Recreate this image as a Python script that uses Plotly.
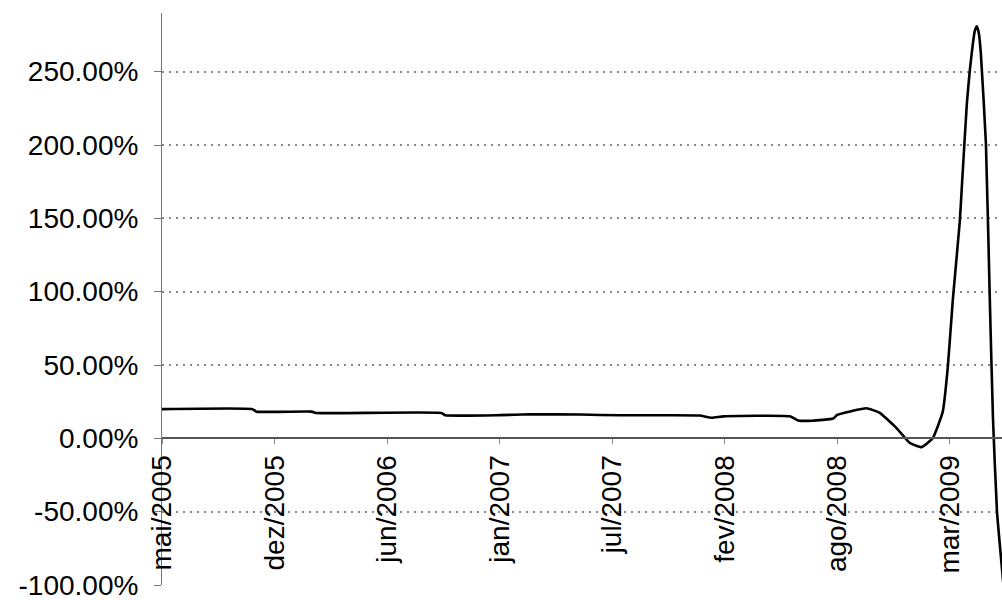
import plotly.graph_objects as go

# observation index (56 obs between date labels) and return in %
obs = [0, 45, 47, 74.5, 76.5, 139, 141, 168, 183, 208, 228, 267.5, 273.5, 279.5,
       312.5, 316.5, 323.5, 334, 336, 343, 350.5, 357, 365.5, 372, 378, 383.5,
       388.5, 391, 393.5, 397, 398, 400.5, 402, 404.5, 405.5, 406.5, 407.5, 410,
       412, 413.5, 415.5, 418, 420]
retorno = [19.9, 19.9, 18.2, 18.2, 17.3, 17.3, 15.7, 15.8, 16.4, 16.2, 15.7, 15.6,
           14.0, 15.0, 15.0, 12.2, 12.0, 13.5, 16.0, 18.5, 20.5, 17.5, 7.0, -3.0,
           -6.0, 0.0, 18.0, 48.0, 94.0, 148.0, 171.0, 228.0, 251.0, 278.0,
           281.0, 276.0, 262.0, 201.0, 91.0, 14.0, -50.0, -89.0, -120.0]

tick_pos = [0, 56, 112, 168, 224, 280, 336, 392]
tick_labels = ["mai/2005", "dez/2005", "jun/2006", "jan/2007", "jul/2007",
               "fev/2008", "ago/2008", "mar/2009"]

y_ticks = [-100, -50, 0, 50, 100, 150, 200, 250]
y_labels = [f"{v:.2f}%" for v in y_ticks]

y_min, y_max = -100, 290

fig = go.Figure()
fig.add_trace(go.Scatter(
    x=obs, y=retorno, mode="lines",
    line=dict(color="black", width=2.6, shape="spline", smoothing=0.4),
    showlegend=False, hoverinfo="skip"
))

fig.update_layout(
    width=1002, height=600,
    plot_bgcolor="white", paper_bgcolor="white",
    margin=dict(l=162, r=0, t=13, b=15),
    font=dict(family="Liberation Sans, Arial, sans-serif", size=28, color="black"),
)
fig.update_xaxes(
    range=[0, 418], automargin=False,
    tickmode="array", tickvals=tick_pos, ticktext=tick_labels,
    tickangle=-90,
    anchor="free", position=(0 - y_min) / (y_max - y_min),
    showline=True, linecolor="#555", linewidth=1.5,
    ticks="outside", ticklen=5, tickcolor="#888",
    showgrid=False, zeroline=False,
)
fig.update_yaxes(
    range=[y_min, y_max], automargin=False,
    tickmode="array", tickvals=y_ticks, ticktext=y_labels,
    showline=True, linecolor="#777", linewidth=1,
    ticks="outside", ticklen=7, tickcolor="#777",
    ticklabelstandoff=10, ticklabeloverflow="allow",
    showgrid=True, gridcolor="#888", griddash="2px,5px", gridwidth=1.5,
    zeroline=False,
)

fig.write_html("out.html", config={"displayModeBar": False},
               post_script="document.body.style.margin='0';")
